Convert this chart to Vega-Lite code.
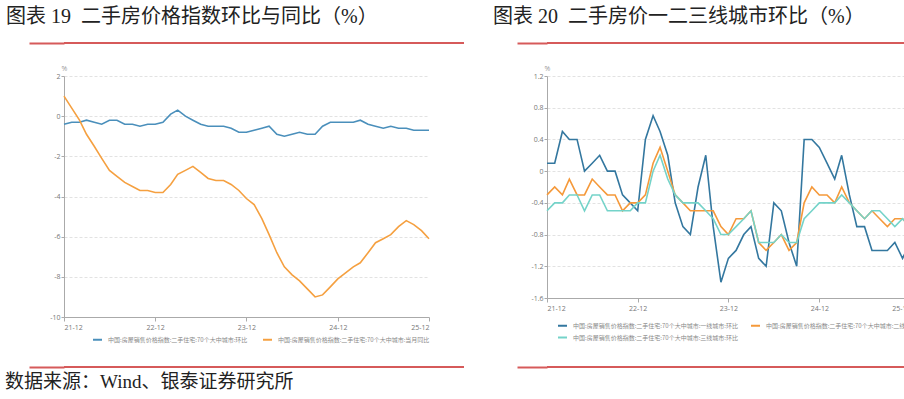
{
  "$schema": "https://vega.github.io/schema/vega-lite/v6.json",
  "background": "white",
  "padding": {"left": 5, "right": 4, "top": 7, "bottom": 0},
  "config": {
    "view": {"stroke": null},
    "font": "Noto Sans CJK SC",
    "axis": {
      "labelFont": "Open Sans",
      "labelFontSize": 7,
      "labelColor": "#777",
      "domainColor": "#aaa",
      "tickColor": "#aaa",
      "titleFont": "Open Sans",
      "titleFontWeight": "normal"
    },
    "title": {"font": "Liberation Serif, Noto Sans CJK SC", "fontWeight": "normal", "color": "#222", "anchor": "start"}
  },
  "datasets": {
    "names": [
      {"s": "L1", "name": "中国:房屋销售价格指数:二手住宅:70个大中城市:环比"},
      {"s": "L2", "name": "中国:房屋销售价格指数:二手住宅:70个大中城市:当月同比"},
      {"s": "R1", "name": "中国:房屋销售价格指数:二手住宅:70个大中城市:一线城市:环比"},
      {"s": "R2", "name": "中国:房屋销售价格指数:二手住宅:70个大中城市:二线城市:环比"},
      {"s": "R3", "name": "中国:房屋销售价格指数:二手住宅:70个大中城市:三线城市:环比"}
    ],
    "left": [
      {"d":"2021-12-01","s":"L1","v":-0.4},{"d":"2022-01-01","s":"L1","v":-0.3},{"d":"2022-02-01","s":"L1","v":-0.3},{"d":"2022-03-01","s":"L1","v":-0.2},{"d":"2022-04-01","s":"L1","v":-0.3},{"d":"2022-05-01","s":"L1","v":-0.4},{"d":"2022-06-01","s":"L1","v":-0.2},{"d":"2022-07-01","s":"L1","v":-0.2},{"d":"2022-08-01","s":"L1","v":-0.4},{"d":"2022-09-01","s":"L1","v":-0.4},{"d":"2022-10-01","s":"L1","v":-0.5},{"d":"2022-11-01","s":"L1","v":-0.4},{"d":"2022-12-01","s":"L1","v":-0.4},
      {"d":"2023-01-01","s":"L1","v":-0.3},{"d":"2023-02-01","s":"L1","v":0.1},{"d":"2023-03-01","s":"L1","v":0.3},{"d":"2023-04-01","s":"L1","v":0.0},{"d":"2023-05-01","s":"L1","v":-0.2},{"d":"2023-06-01","s":"L1","v":-0.4},{"d":"2023-07-01","s":"L1","v":-0.5},{"d":"2023-08-01","s":"L1","v":-0.5},{"d":"2023-09-01","s":"L1","v":-0.5},{"d":"2023-10-01","s":"L1","v":-0.6},{"d":"2023-11-01","s":"L1","v":-0.8},{"d":"2023-12-01","s":"L1","v":-0.8},
      {"d":"2024-01-01","s":"L1","v":-0.7},{"d":"2024-02-01","s":"L1","v":-0.6},{"d":"2024-03-01","s":"L1","v":-0.5},{"d":"2024-04-01","s":"L1","v":-0.9},{"d":"2024-05-01","s":"L1","v":-1.0},{"d":"2024-06-01","s":"L1","v":-0.9},{"d":"2024-07-01","s":"L1","v":-0.8},{"d":"2024-08-01","s":"L1","v":-0.9},{"d":"2024-09-01","s":"L1","v":-0.9},{"d":"2024-10-01","s":"L1","v":-0.5},{"d":"2024-11-01","s":"L1","v":-0.3},{"d":"2024-12-01","s":"L1","v":-0.3},
      {"d":"2025-01-01","s":"L1","v":-0.3},{"d":"2025-02-01","s":"L1","v":-0.3},{"d":"2025-03-01","s":"L1","v":-0.2},{"d":"2025-04-01","s":"L1","v":-0.4},{"d":"2025-05-01","s":"L1","v":-0.5},{"d":"2025-06-01","s":"L1","v":-0.6},{"d":"2025-07-01","s":"L1","v":-0.5},{"d":"2025-08-01","s":"L1","v":-0.6},{"d":"2025-09-01","s":"L1","v":-0.6},{"d":"2025-10-01","s":"L1","v":-0.7},{"d":"2025-11-01","s":"L1","v":-0.7},{"d":"2025-12-01","s":"L1","v":-0.7},
      {"d":"2021-12-01","s":"L2","v":1.0},{"d":"2022-01-01","s":"L2","v":0.4},{"d":"2022-02-01","s":"L2","v":-0.2},{"d":"2022-03-01","s":"L2","v":-0.9},{"d":"2022-04-01","s":"L2","v":-1.5},{"d":"2022-05-01","s":"L2","v":-2.1},{"d":"2022-06-01","s":"L2","v":-2.7},{"d":"2022-07-01","s":"L2","v":-3.0},{"d":"2022-08-01","s":"L2","v":-3.3},{"d":"2022-09-01","s":"L2","v":-3.5},{"d":"2022-10-01","s":"L2","v":-3.7},{"d":"2022-11-01","s":"L2","v":-3.7},{"d":"2022-12-01","s":"L2","v":-3.8},
      {"d":"2023-01-01","s":"L2","v":-3.8},{"d":"2023-02-01","s":"L2","v":-3.4},{"d":"2023-03-01","s":"L2","v":-2.9},{"d":"2023-04-01","s":"L2","v":-2.7},{"d":"2023-05-01","s":"L2","v":-2.5},{"d":"2023-06-01","s":"L2","v":-2.8},{"d":"2023-07-01","s":"L2","v":-3.1},{"d":"2023-08-01","s":"L2","v":-3.2},{"d":"2023-09-01","s":"L2","v":-3.2},{"d":"2023-10-01","s":"L2","v":-3.4},{"d":"2023-11-01","s":"L2","v":-3.7},{"d":"2023-12-01","s":"L2","v":-4.1},
      {"d":"2024-01-01","s":"L2","v":-4.4},{"d":"2024-02-01","s":"L2","v":-5.1},{"d":"2024-03-01","s":"L2","v":-5.9},{"d":"2024-04-01","s":"L2","v":-6.8},{"d":"2024-05-01","s":"L2","v":-7.5},{"d":"2024-06-01","s":"L2","v":-7.9},{"d":"2024-07-01","s":"L2","v":-8.2},{"d":"2024-08-01","s":"L2","v":-8.6},{"d":"2024-09-01","s":"L2","v":-9.0},{"d":"2024-10-01","s":"L2","v":-8.9},{"d":"2024-11-01","s":"L2","v":-8.5},{"d":"2024-12-01","s":"L2","v":-8.1},
      {"d":"2025-01-01","s":"L2","v":-7.8},{"d":"2025-02-01","s":"L2","v":-7.5},{"d":"2025-03-01","s":"L2","v":-7.3},{"d":"2025-04-01","s":"L2","v":-6.8},{"d":"2025-05-01","s":"L2","v":-6.3},{"d":"2025-06-01","s":"L2","v":-6.1},{"d":"2025-07-01","s":"L2","v":-5.9},{"d":"2025-08-01","s":"L2","v":-5.5},{"d":"2025-09-01","s":"L2","v":-5.2},{"d":"2025-10-01","s":"L2","v":-5.4},{"d":"2025-11-01","s":"L2","v":-5.7},{"d":"2025-12-01","s":"L2","v":-6.1}
    ],
    "right": [
      {"d":"2021-12-01","s":"R1","v":0.1},{"d":"2022-01-01","s":"R1","v":0.1},{"d":"2022-02-01","s":"R1","v":0.5},{"d":"2022-03-01","s":"R1","v":0.4},{"d":"2022-04-01","s":"R1","v":0.4},{"d":"2022-05-01","s":"R1","v":0.0},{"d":"2022-06-01","s":"R1","v":0.1},{"d":"2022-07-01","s":"R1","v":0.2},{"d":"2022-08-01","s":"R1","v":0.0},{"d":"2022-09-01","s":"R1","v":0.0},{"d":"2022-10-01","s":"R1","v":-0.3},{"d":"2022-11-01","s":"R1","v":-0.4},{"d":"2022-12-01","s":"R1","v":-0.5},
      {"d":"2023-01-01","s":"R1","v":0.4},{"d":"2023-02-01","s":"R1","v":0.7},{"d":"2023-03-01","s":"R1","v":0.5},{"d":"2023-04-01","s":"R1","v":0.2},{"d":"2023-05-01","s":"R1","v":-0.4},{"d":"2023-06-01","s":"R1","v":-0.7},{"d":"2023-07-01","s":"R1","v":-0.8},{"d":"2023-08-01","s":"R1","v":-0.2},{"d":"2023-09-01","s":"R1","v":0.2},{"d":"2023-10-01","s":"R1","v":-0.7},{"d":"2023-11-01","s":"R1","v":-1.4},{"d":"2023-12-01","s":"R1","v":-1.1},
      {"d":"2024-01-01","s":"R1","v":-1.0},{"d":"2024-02-01","s":"R1","v":-0.8},{"d":"2024-03-01","s":"R1","v":-0.7},{"d":"2024-04-01","s":"R1","v":-1.1},{"d":"2024-05-01","s":"R1","v":-1.2},{"d":"2024-06-01","s":"R1","v":-0.4},{"d":"2024-07-01","s":"R1","v":-0.5},{"d":"2024-08-01","s":"R1","v":-0.9},{"d":"2024-09-01","s":"R1","v":-1.2},{"d":"2024-10-01","s":"R1","v":0.4},{"d":"2024-11-01","s":"R1","v":0.4},{"d":"2024-12-01","s":"R1","v":0.3},
      {"d":"2025-01-01","s":"R1","v":0.1},{"d":"2025-02-01","s":"R1","v":-0.1},{"d":"2025-03-01","s":"R1","v":0.2},{"d":"2025-04-01","s":"R1","v":-0.3},{"d":"2025-05-01","s":"R1","v":-0.7},{"d":"2025-06-01","s":"R1","v":-0.7},{"d":"2025-07-01","s":"R1","v":-1.0},{"d":"2025-08-01","s":"R1","v":-1.0},{"d":"2025-09-01","s":"R1","v":-1.0},{"d":"2025-10-01","s":"R1","v":-0.9},{"d":"2025-11-01","s":"R1","v":-1.1},{"d":"2025-12-01","s":"R1","v":-0.9},
      {"d":"2021-12-01","s":"R2","v":-0.3},{"d":"2022-01-01","s":"R2","v":-0.2},{"d":"2022-02-01","s":"R2","v":-0.3},{"d":"2022-03-01","s":"R2","v":-0.1},{"d":"2022-04-01","s":"R2","v":-0.3},{"d":"2022-05-01","s":"R2","v":-0.3},{"d":"2022-06-01","s":"R2","v":-0.1},{"d":"2022-07-01","s":"R2","v":-0.2},{"d":"2022-08-01","s":"R2","v":-0.3},{"d":"2022-09-01","s":"R2","v":-0.3},{"d":"2022-10-01","s":"R2","v":-0.5},{"d":"2022-11-01","s":"R2","v":-0.4},{"d":"2022-12-01","s":"R2","v":-0.4},
      {"d":"2023-01-01","s":"R2","v":-0.3},{"d":"2023-02-01","s":"R2","v":0.1},{"d":"2023-03-01","s":"R2","v":0.3},{"d":"2023-04-01","s":"R2","v":0.0},{"d":"2023-05-01","s":"R2","v":-0.3},{"d":"2023-06-01","s":"R2","v":-0.4},{"d":"2023-07-01","s":"R2","v":-0.5},{"d":"2023-08-01","s":"R2","v":-0.5},{"d":"2023-09-01","s":"R2","v":-0.5},{"d":"2023-10-01","s":"R2","v":-0.5},{"d":"2023-11-01","s":"R2","v":-0.7},{"d":"2023-12-01","s":"R2","v":-0.8},
      {"d":"2024-01-01","s":"R2","v":-0.6},{"d":"2024-02-01","s":"R2","v":-0.6},{"d":"2024-03-01","s":"R2","v":-0.5},{"d":"2024-04-01","s":"R2","v":-0.9},{"d":"2024-05-01","s":"R2","v":-1.0},{"d":"2024-06-01","s":"R2","v":-0.9},{"d":"2024-07-01","s":"R2","v":-0.8},{"d":"2024-08-01","s":"R2","v":-1.0},{"d":"2024-09-01","s":"R2","v":-0.9},{"d":"2024-10-01","s":"R2","v":-0.4},{"d":"2024-11-01","s":"R2","v":-0.2},{"d":"2024-12-01","s":"R2","v":-0.3},
      {"d":"2025-01-01","s":"R2","v":-0.3},{"d":"2025-02-01","s":"R2","v":-0.4},{"d":"2025-03-01","s":"R2","v":-0.2},{"d":"2025-04-01","s":"R2","v":-0.4},{"d":"2025-05-01","s":"R2","v":-0.5},{"d":"2025-06-01","s":"R2","v":-0.6},{"d":"2025-07-01","s":"R2","v":-0.5},{"d":"2025-08-01","s":"R2","v":-0.6},{"d":"2025-09-01","s":"R2","v":-0.7},{"d":"2025-10-01","s":"R2","v":-0.6},{"d":"2025-11-01","s":"R2","v":-0.6},{"d":"2025-12-01","s":"R2","v":-0.7},
      {"d":"2021-12-01","s":"R3","v":-0.5},{"d":"2022-01-01","s":"R3","v":-0.4},{"d":"2022-02-01","s":"R3","v":-0.4},{"d":"2022-03-01","s":"R3","v":-0.3},{"d":"2022-04-01","s":"R3","v":-0.3},{"d":"2022-05-01","s":"R3","v":-0.5},{"d":"2022-06-01","s":"R3","v":-0.3},{"d":"2022-07-01","s":"R3","v":-0.3},{"d":"2022-08-01","s":"R3","v":-0.5},{"d":"2022-09-01","s":"R3","v":-0.5},{"d":"2022-10-01","s":"R3","v":-0.5},{"d":"2022-11-01","s":"R3","v":-0.5},{"d":"2022-12-01","s":"R3","v":-0.4},
      {"d":"2023-01-01","s":"R3","v":-0.4},{"d":"2023-02-01","s":"R3","v":0.0},{"d":"2023-03-01","s":"R3","v":0.2},{"d":"2023-04-01","s":"R3","v":-0.1},{"d":"2023-05-01","s":"R3","v":-0.3},{"d":"2023-06-01","s":"R3","v":-0.4},{"d":"2023-07-01","s":"R3","v":-0.4},{"d":"2023-08-01","s":"R3","v":-0.4},{"d":"2023-09-01","s":"R3","v":-0.5},{"d":"2023-10-01","s":"R3","v":-0.6},{"d":"2023-11-01","s":"R3","v":-0.8},{"d":"2023-12-01","s":"R3","v":-0.8},
      {"d":"2024-01-01","s":"R3","v":-0.7},{"d":"2024-02-01","s":"R3","v":-0.6},{"d":"2024-03-01","s":"R3","v":-0.5},{"d":"2024-04-01","s":"R3","v":-0.9},{"d":"2024-05-01","s":"R3","v":-0.9},{"d":"2024-06-01","s":"R3","v":-0.9},{"d":"2024-07-01","s":"R3","v":-0.8},{"d":"2024-08-01","s":"R3","v":-0.9},{"d":"2024-09-01","s":"R3","v":-0.9},{"d":"2024-10-01","s":"R3","v":-0.6},{"d":"2024-11-01","s":"R3","v":-0.5},{"d":"2024-12-01","s":"R3","v":-0.4},
      {"d":"2025-01-01","s":"R3","v":-0.4},{"d":"2025-02-01","s":"R3","v":-0.4},{"d":"2025-03-01","s":"R3","v":-0.3},{"d":"2025-04-01","s":"R3","v":-0.4},{"d":"2025-05-01","s":"R3","v":-0.5},{"d":"2025-06-01","s":"R3","v":-0.6},{"d":"2025-07-01","s":"R3","v":-0.5},{"d":"2025-08-01","s":"R3","v":-0.5},{"d":"2025-09-01","s":"R3","v":-0.6},{"d":"2025-10-01","s":"R3","v":-0.7},{"d":"2025-11-01","s":"R3","v":-0.6},{"d":"2025-12-01","s":"R3","v":-0.7}
    ]
  },
  "spacing": 28,
  "resolve": {"scale": {"color": "independent"}, "legend": {"color": "independent"}},
  "hconcat": [
    {
      "spacing": 20,
      "vconcat": [
        {
          "width": 400, "height": 1,
          "title": {"text": "图表 19\u2002二手房价格指数环比与同比（%）", "fontSize": 20, "offset": 15, "dx": -22},
          "data": {"values": [{"k": 0}]},
          "mark": {"type": "rule", "color": "#d65a5a", "strokeWidth": 2},
          "encoding": {"y": {"datum": 0, "type": "quantitative", "scale": {"domain": [0, 1]},
            "axis": {"values": [0], "labels": false, "domain": false, "grid": false, "ticks": true, "tickSize": 35, "tickColor": "#d65a5a", "tickWidth": 2, "title": null, "minExtent": 35, "maxExtent": 35}}}
        },
        {
          "width": 365, "height": 241,
          "data": {"name": "left"},
          "transform": [{"lookup": "s", "from": {"data": {"name": "names"}, "key": "s", "fields": ["name"]}}],
          "mark": {"type": "line", "strokeWidth": 1.6},
          "encoding": {
            "x": {
              "field": "d", "type": "temporal",
              "scale": {"type": "utc", "nice": false, "domain": [{"year": 2021, "month": 12, "date": 1, "utc": true}, {"year": 2025, "month": 12, "date": 1, "utc": true}]},
              "axis": {
                "title": null, "grid": false, "tickSize": 4, "labelPadding": 2, "minExtent": 29, "maxExtent": 29,
                "values": [{"year": 2021, "month": 12, "date": 1, "utc": true}, {"year": 2022, "month": 12, "date": 1, "utc": true}, {"year": 2023, "month": 12, "date": 1, "utc": true}, {"year": 2024, "month": 12, "date": 1, "utc": true}, {"year": 2025, "month": 12, "date": 1, "utc": true}],
                "labelExpr": "utcFormat(datum.value, '%y-%m')"
              }
            },
            "y": {
              "field": "v", "type": "quantitative",
              "scale": {"domain": [-10, 2], "nice": false, "zero": false},
              "axis": {
                "values": [-10, -8, -6, -4, -2, 0, 2],
                "labelExpr": "toString(datum.value)",
                "title": "%", "titleAngle": 0, "titleX": 0, "titleY": -5, "titleAlign": "center", "titleBaseline": "bottom", "titleFontSize": 7, "titleColor": "#999",
                "grid": true, "gridDash": [3, 2], "gridColor": "#e2e2e2",
                "tickSize": 3, "labelPadding": 1, "minExtent": 35, "maxExtent": 35
              }
            },
            "color": {
              "field": "name", "type": "nominal",
              "scale": {"domain": ["中国:房屋销售价格指数:二手住宅:70个大中城市:环比", "中国:房屋销售价格指数:二手住宅:70个大中城市:当月同比"], "range": ["#4a8fbb", "#f5a040"]},
              "legend": {
                "orient": "none", "legendX": 26, "legendY": 290, "padding": 2, "direction": "horizontal", "title": null,
                "symbolType": "stroke", "symbolSize": 81, "symbolStrokeWidth": 2,
                "labelFontSize": 6, "labelColor": "#888", "labelFont": "Noto Sans CJK SC", "labelLimit": 400,
                "columnPadding": 11, "labelOffset": 5
              }
            }
          }
        },
        {
          "width": 400, "height": 1,
          "title": {"text": "数据来源：Wind、银泰证券研究所", "orient": "bottom", "fontSize": 19, "offset": 5, "dx": -23},
          "data": {"values": [{"k": 0}]},
          "mark": {"type": "rule", "color": "#d65a5a", "strokeWidth": 2},
          "encoding": {"y": {"datum": 0, "type": "quantitative", "scale": {"domain": [0, 1]},
            "axis": {"values": [0], "labels": false, "domain": false, "grid": false, "ticks": true, "tickSize": 35, "tickColor": "#d65a5a", "tickWidth": 2, "title": null, "minExtent": 35, "maxExtent": 35}}}
        }
      ]
    },
    {
      "spacing": 20,
      "vconcat": [
        {
          "width": 402, "height": 1,
          "title": {"text": "图表 20\u2002二手房价一二三线城市环比（%）", "fontSize": 20, "offset": 15, "dx": -23},
          "data": {"values": [{"k": 0}]},
          "mark": {"type": "rule", "color": "#d65a5a", "strokeWidth": 2},
          "encoding": {"y": {"datum": 0, "type": "quantitative", "scale": {"domain": [0, 1]},
            "axis": {"values": [0], "labels": false, "domain": false, "grid": false, "ticks": true, "tickSize": 30, "tickColor": "#d65a5a", "tickWidth": 2, "title": null, "minExtent": 30, "maxExtent": 30}}}
        },
        {
          "width": 363, "height": 222,
          "data": {"name": "right"},
          "transform": [{"lookup": "s", "from": {"data": {"name": "names"}, "key": "s", "fields": ["name"]}}],
          "mark": {"type": "line", "strokeWidth": 1.6},
          "encoding": {
            "x": {
              "field": "d", "type": "temporal",
              "scale": {"type": "utc", "nice": false, "domain": [{"year": 2021, "month": 12, "date": 1, "utc": true}, {"year": 2025, "month": 12, "date": 1, "utc": true}]},
              "axis": {
                "title": null, "grid": false, "tickSize": 4, "labelPadding": 2, "minExtent": 48, "maxExtent": 48,
                "values": [{"year": 2021, "month": 12, "date": 1, "utc": true}, {"year": 2022, "month": 12, "date": 1, "utc": true}, {"year": 2023, "month": 12, "date": 1, "utc": true}, {"year": 2024, "month": 12, "date": 1, "utc": true}, {"year": 2025, "month": 12, "date": 1, "utc": true}],
                "labelExpr": "utcFormat(datum.value, '%y-%m')"
              }
            },
            "y": {
              "field": "v", "type": "quantitative",
              "scale": {"domain": [-1.6, 1.2], "nice": false, "zero": false},
              "axis": {
                "values": [-1.6, -1.2, -0.8, -0.4, 0, 0.4, 0.8, 1.2],
                "labelExpr": "toString(datum.value)",
                "title": "%", "titleAngle": 0, "titleX": 0, "titleY": -5, "titleAlign": "center", "titleBaseline": "bottom", "titleFontSize": 7, "titleColor": "#999",
                "grid": true, "gridDash": [3, 2], "gridColor": "#e2e2e2",
                "tickSize": 3, "labelPadding": 1, "minExtent": 30, "maxExtent": 30
              }
            },
            "color": {
              "field": "name", "type": "nominal",
              "scale": {"domain": ["中国:房屋销售价格指数:二手住宅:70个大中城市:一线城市:环比", "中国:房屋销售价格指数:二手住宅:70个大中城市:二线城市:环比", "中国:房屋销售价格指数:二手住宅:70个大中城市:三线城市:环比"], "range": ["#33779f", "#f5993a", "#74d3c9"]},
              "legend": {
                "orient": "none", "legendX": 4, "legendY": 272, "padding": 6, "direction": "horizontal", "columns": 2, "title": null,
                "symbolType": "stroke", "symbolSize": 81, "symbolStrokeWidth": 2,
                "labelFontSize": 6, "labelColor": "#888", "labelFont": "Noto Sans CJK SC", "labelLimit": 400,
                "columnPadding": 8, "rowPadding": 2, "labelOffset": 5
              }
            }
          }
        },
        {
          "width": 402, "height": 1,
          "data": {"values": [{"k": 0}]},
          "mark": {"type": "rule", "color": "#d65a5a", "strokeWidth": 2},
          "encoding": {"y": {"datum": 0, "type": "quantitative", "scale": {"domain": [0, 1]},
            "axis": {"values": [0], "labels": false, "domain": false, "grid": false, "ticks": true, "tickSize": 30, "tickColor": "#d65a5a", "tickWidth": 2, "title": null, "minExtent": 30, "maxExtent": 30}}}
        }
      ]
    }
  ]
}
